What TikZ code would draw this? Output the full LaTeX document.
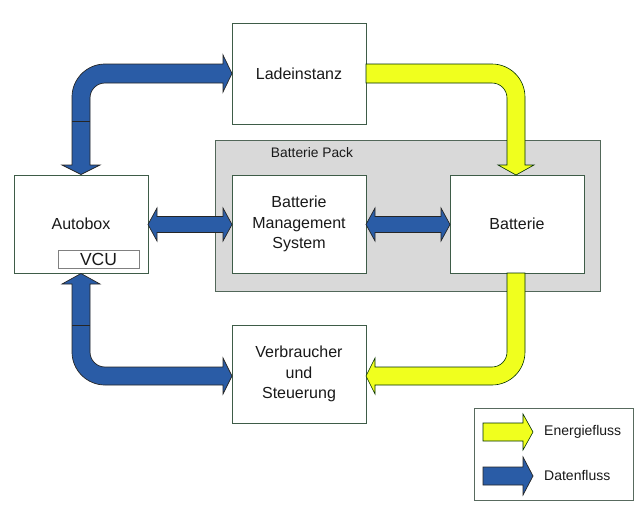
\documentclass[tikz,border=0pt]{standalone}
\usepackage{fontspec}
\setmainfont{Liberation Sans}
\definecolor{arrowblue}{RGB}{42,92,166}
\definecolor{arrowyellow}{RGB}{240,255,30}
\definecolor{packgray}{RGB}{217,217,217}
\definecolor{boxline}{RGB}{62,92,72}
\definecolor{txt}{RGB}{25,25,25}
\begin{document}
\begin{tikzpicture}[x=1pt,y=-1pt,
  box/.style={draw=boxline, line width=0.8pt, fill=white, inner sep=0pt, text=txt,
    align=center, font=\fontsize{16}{20.5}\selectfont},
  bluearrow/.style={fill=arrowblue, draw=black!85, line width=0.7pt, line join=miter},
  yellowarrow/.style={fill=arrowyellow, draw=black!70!green!60!black, line width=0.6pt, line join=miter},
  divider/.style={draw=black!85, line width=0.7pt}]
\useasboundingbox (0,0) rectangle (640,507);

% Batterie Pack
\node[draw=boxline!70!gray, line width=0.8pt, fill=packgray, minimum width=385pt, minimum height=151pt, inner sep=0pt] (pack) at (407.5,215.5) {};
\node[text=txt, font=\fontsize{13.8}{16}\selectfont] (packlabel) at (312,153) {Batterie Pack};

% Boxes
\node[box, minimum width=134pt, minimum height=101pt] (lade) at (299,73.5) {Ladeinstanz};
\node[box, minimum width=134pt, minimum height=98pt] (bms) at (299,224) {Batterie\\Management\\System};
\node[box, minimum width=134pt, minimum height=98pt] (batt) at (517,224) {Batterie};
\node[box, minimum width=134pt, minimum height=98pt] (auto) at (81,224) {\raisebox{1pt}{Autobox}};
\node[draw=gray, line width=0.8pt, fill=white, minimum width=81pt, minimum height=18pt, inner sep=0pt, text=txt, font=\fontsize{17.5}{18}\selectfont] (vcu) at (98.5,259) {VCU};
\node[box, minimum width=134pt, minimum height=98pt] (verb) at (299,374) {Verbraucher\\und\\Steuerung};

% Legend box
\node[draw=boxline!60!gray, line width=0.8pt, fill=white, minimum width=159pt, minimum height=92pt, inner sep=0pt] (legend) at (553.5,454) {};

% Top blue arrow: Autobox <-> Ladeinstanz
\path[bluearrow] (232,73.5) -- (223,55) -- (223,64) -- (105,64)
  .. controls (86.8,64) and (72,78.8) .. (72,97) -- (72,165) -- (62,165) -- (81,174.5)
  -- (100,165) -- (90,165) -- (90,98) .. controls (90,89.7) and (96.7,83) .. (105,83)
  -- (223,83) -- (223,92) -- cycle;
\coordinate (d1a) at (72,121); \coordinate (d1b) at (90,121);
\draw[divider] (d1a) -- (d1b);

% Bottom blue arrow: Autobox <-> Verbraucher
\path[bluearrow] (81,273.5) -- (100,284) -- (90,284) -- (90,352)
  .. controls (90,360.3) and (96.7,367) .. (105,367) -- (223,367) -- (223,358) -- (232,376)
  -- (223,394) -- (223,385) -- (105,385) .. controls (86.8,385) and (72,370.2) .. (72,352)
  -- (72,284) -- (62,284) -- cycle;
\coordinate (d2a) at (72,325); \coordinate (d2b) at (90,325);
\draw[divider] (d2a) -- (d2b);

% Top yellow arrow: Ladeinstanz -> Batterie
\path[yellowarrow] (366,64) -- (492,64) .. controls (510.2,64) and (525,78.8) .. (525,97)
  -- (525,165) -- (534,165) -- (516,175) -- (498,165) -- (507,165) -- (507,98)
  .. controls (507,89.7) and (500.3,83) .. (492,83) -- (366,83) -- cycle;

% Bottom yellow arrow: Batterie -> Verbraucher
\path[yellowarrow] (507,273) -- (525,273) -- (525,352) .. controls (525,370.2) and (510.2,385) .. (492,385)
  -- (375,385) -- (375,394) -- (366,376) -- (375,358) -- (375,367) -- (492,367)
  .. controls (500.3,367) and (507,360.3) .. (507,352) -- cycle;

% Double arrows
\path[bluearrow] (148,224.5) -- (157,208) -- (157,216.5) -- (223,216.5) -- (223,208) -- (232,224.5)
  -- (223,241) -- (223,232.5) -- (157,232.5) -- (157,241) -- cycle;
\path[bluearrow] (366,224.5) -- (375,208) -- (375,216.5) -- (441,216.5) -- (441,208) -- (450,224.5)
  -- (441,241) -- (441,232.5) -- (375,232.5) -- (375,241) -- cycle;

% Legend arrows and text
\path[yellowarrow] (483,423) -- (523,423) -- (523,414) -- (533,432) -- (523,450) -- (523,441) -- (483,441) -- cycle;
\path[bluearrow] (483,467) -- (523,467) -- (523,457) -- (533,476) -- (523,495) -- (523,485) -- (483,485) -- cycle;
\node[anchor=west, inner sep=0pt, text=txt, font=\fontsize{14}{16}\selectfont] (energie) at (544,432) {Energiefluss};
\node[anchor=west, inner sep=0pt, text=txt, font=\fontsize{14}{16}\selectfont] (daten) at (544,475) {Datenfluss};
\end{tikzpicture}
\end{document}
